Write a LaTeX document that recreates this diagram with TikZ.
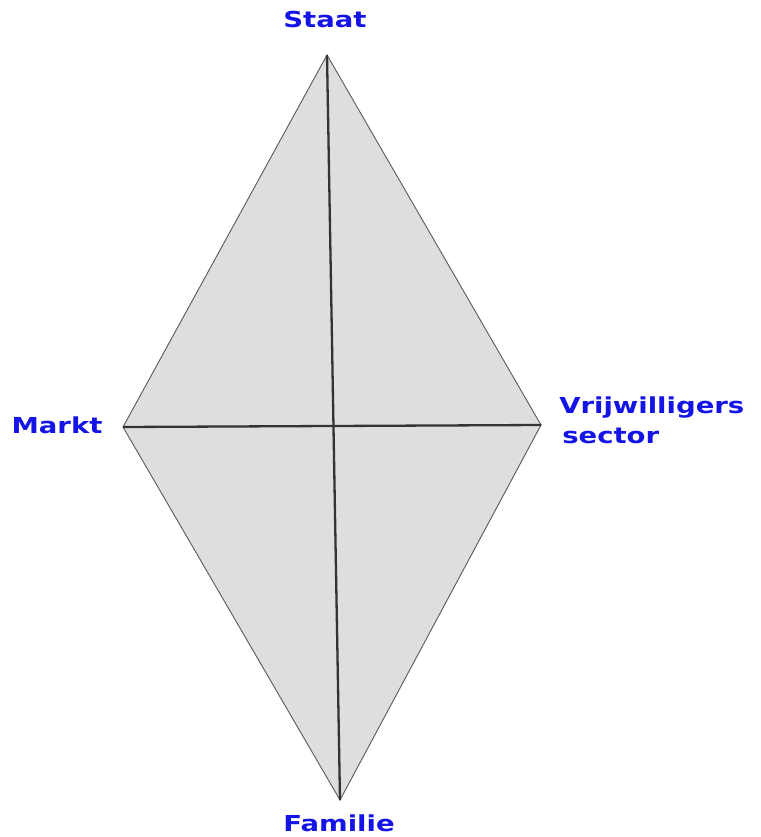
\documentclass[tikz,border=0pt]{standalone}
\usepackage{fontspec}
\setmainfont{DejaVu Sans}
\definecolor{lblue}{RGB}{20,20,230}
\definecolor{kitefill}{RGB}{222,222,222}
\tikzset{
  lbl/.style={font=\bfseries\fontsize{22}{30}\selectfont, text=lblue, inner sep=0pt, xscale=1.25},
  kite/.style={draw=black!65, line width=0.9pt, fill=kitefill, line join=miter},
  axis/.style={draw=black!80, line width=2.3pt}
}
\begin{document}
\begin{tikzpicture}[x=1pt,y=-1pt]
\useasboundingbox (0,0) rectangle (760,837);
\coordinate (S) at (327,55);
\coordinate (M) at (123,427);
\coordinate (V) at (541,425);
\coordinate (F) at (340,800);
\draw[kite] (S) -- (V) -- (F) -- (M) -- cycle;
\draw[axis] (S) -- (F);
\draw[axis] (M) -- (V);
\node[lbl, anchor=base] (staat) at (325,28) {Staat};
\node[lbl, anchor=base] (markt) at (57,433) {Markt};
\node[lbl, anchor=base west] (vrij) at (559,413) {Vrijwilligers};
\node[lbl, anchor=base west] (sector) at (562,443) {sector};
\node[lbl, anchor=base] (familie) at (339,831) {Familie};
\end{tikzpicture}
\end{document}
